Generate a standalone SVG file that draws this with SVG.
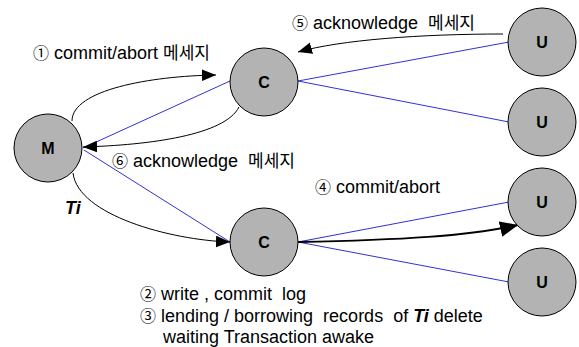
<svg xmlns="http://www.w3.org/2000/svg" width="579" height="347" viewBox="0 0 579 347">
<style>
  .node circle { fill: #b3b3b3; stroke: #000; stroke-width: 1; }
  .node text { font-family: "Liberation Sans", Arial, sans-serif; font-weight: bold; font-size: 16px; text-anchor: middle; fill: #000; }
  .blue { stroke: #3232d2; stroke-width: 1; fill: none; }
  .arc { stroke: #000; stroke-width: 1; fill: none; marker-end: url(#ah); }
  .thick { stroke: #000; stroke-width: 2; fill: none; marker-end: url(#ahb); }
  .lbl { font-family: "Liberation Sans", Arial, "Noto Sans CJK KR", sans-serif; font-size: 18px; fill: #000; white-space: pre; }
  .num { font-family: "Noto Sans CJK KR", "DejaVu Sans", sans-serif; font-size: 16px; }
  .ko { font-family: "Noto Sans CJK KR", sans-serif; font-size: 17px; }
  .bi { font-weight: bold; font-style: italic; }
</style>
<defs>
  <marker id="ah" markerUnits="userSpaceOnUse" markerWidth="14" markerHeight="12" refX="12" refY="5" orient="auto" viewBox="0 0 12 10">
    <path d="M0,0 L12,5 L0,10 Z" fill="#000"/>
  </marker>
  <marker id="ahb" markerUnits="userSpaceOnUse" markerWidth="18" markerHeight="16" refX="16" refY="7" orient="auto" viewBox="0 0 16 14">
    <path d="M0,0 L16,7 L0,14 Z" fill="#000"/>
  </marker>
</defs>
<rect width="579" height="347" fill="#fff"/>
<g id="connectors">
  <line class="blue" x1="230" y1="81" x2="83" y2="148"/>
  <line class="blue" x1="84" y1="150" x2="230" y2="242"/>
  <line class="blue" x1="298" y1="81" x2="509" y2="42"/>
  <line class="blue" x1="298" y1="81" x2="509" y2="122"/>
  <line class="blue" x1="298" y1="242" x2="509" y2="202"/>
  <line class="blue" x1="298" y1="242" x2="509" y2="282"/>
  <path class="arc" d="M72,121 C72,90 150,76 216,75"/>
  <path class="arc" d="M239,107 C225,135 150,145 83,147"/>
  <path class="arc" d="M503,34 C420,34 340,40 298,52"/>
  <path class="arc" d="M73,173 C78,215 170,240 230,242"/>
  <path class="thick" d="M298,242 C400,240 470,236 518,225"/>
</g>
<g id="node-M" class="node"><circle cx="48" cy="148" r="34"/><text x="48" y="154">M</text></g>
<g id="node-C1" class="node"><circle cx="264" cy="82" r="34"/><text x="264" y="88">C</text></g>
<g id="node-C2" class="node"><circle cx="264" cy="242" r="34"/><text x="264" y="248">C</text></g>
<g id="node-U1" class="node"><circle cx="542" cy="42" r="34"/><text x="542" y="48">U</text></g>
<g id="node-U2" class="node"><circle cx="542" cy="122" r="34"/><text x="542" y="128">U</text></g>
<g id="node-U3" class="node"><circle cx="542" cy="202" r="34"/><text x="542" y="208">U</text></g>
<g id="node-U4" class="node"><circle cx="542" cy="282" r="34"/><text x="542" y="288">U</text></g>
<g id="labels">
  <text class="lbl" x="33" y="59"><tspan class="num">①</tspan> commit/abort <tspan class="ko">메세지</tspan></text>
  <text class="lbl" x="292" y="29"><tspan class="num">⑤</tspan> acknowledge  <tspan class="ko">메세지</tspan></text>
  <text class="lbl" x="112" y="167"><tspan class="num">⑥</tspan> acknowledge  <tspan class="ko">메세지</tspan></text>
  <text class="lbl bi" x="65" y="214">Ti</text>
  <text class="lbl" x="315" y="193"><tspan class="num">④</tspan> commit/abort</text>
  <text class="lbl" x="140" y="300"><tspan class="num">②</tspan> write , commit  log</text>
  <text class="lbl" x="140" y="322"><tspan class="num">③</tspan> lending / borrowing  records  of <tspan class="bi">Ti</tspan> delete</text>
  <text class="lbl" x="163" y="343">waiting Transaction awake</text>
</g>
</svg>
